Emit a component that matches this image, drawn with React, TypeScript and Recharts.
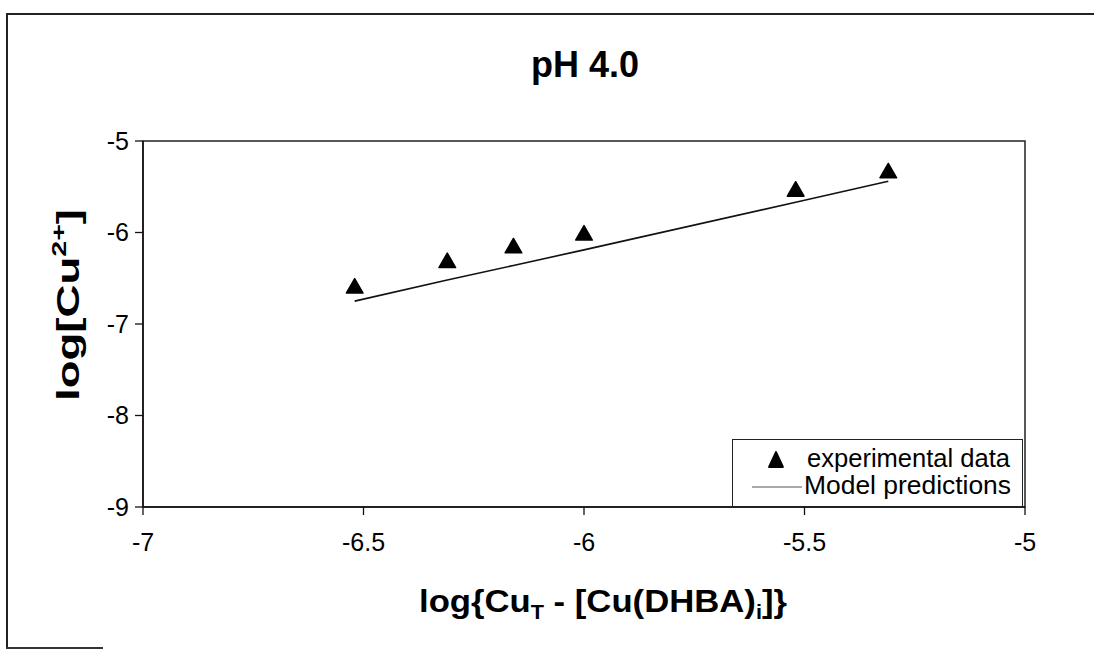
import React from "react";
import {
  ComposedChart,
  Scatter,
  Line,
  XAxis,
  YAxis,
  ZAxis,
  ReferenceArea,
} from "recharts";

// log{CuT - [Cu(DHBA)i]} values
const logCuFree = [-6.52, -6.31, -6.16, -6.0, -5.52, -5.31];
// measured log[Cu2+]
const logCuMeasured = [-6.61, -6.33, -6.17, -6.03, -5.55, -5.35];
// model curve at the same abscissae
const logCuModel = [-6.75, -6.52, -6.36, -6.19, -5.67, -5.44];

const xTicks = [-7, -6.5, -6, -5.5, -5];
const yTicks = [-9, -8, -7, -6, -5];

const FONT = "'Liberation Sans', Arial, sans-serif";

const experimental = logCuFree.map((x, i) => ({ x, y: logCuMeasured[i] }));
const model = logCuFree.map((x, i) => ({ x, y: logCuModel[i] }));

function LegendBox() {
  return (
    <div
      style={{
        position: "absolute",
        left: 732,
        top: 439,
        width: 289,
        height: 66,
        border: "1.5px solid #222",
        background: "#fff",
      }}
    >
      <svg width={289} height={66} style={{ position: "absolute", left: 0, top: 0 }}>
        <polygon points="43,12 50,27 36,27" fill="#000" stroke="#000" strokeWidth={1.8} strokeLinejoin="round" />
        <line x1={19} x2={69} y1={47} y2={47} stroke="#555" strokeWidth={1.2} />
        <text x={74} y={27} fontSize={25} fontFamily={FONT} textLength={203} lengthAdjust="spacingAndGlyphs">
          experimental data
        </text>
        <text x={71} y={54} fontSize={25} fontFamily={FONT} textLength={207} lengthAdjust="spacingAndGlyphs">
          Model predictions
        </text>
      </svg>
    </div>
  );
}

export default function App() {
  return (
    <div
      style={{
        position: "fixed",
        left: 0,
        top: 0,
        width: 1094,
        height: 650,
        background: "#fff",
        fontFamily: FONT,
      }}
    >
      {/* outer figure frame */}
      <div style={{ position: "absolute", left: 6, top: 13, width: 1088, height: 1.5, background: "#222" }} />
      <div style={{ position: "absolute", left: 6, top: 13, width: 1.5, height: 636, background: "#222" }} />
      <div style={{ position: "absolute", left: 6, top: 647, width: 97, height: 1.5, background: "#333" }} />

      <div style={{ position: "absolute", left: 0, top: 0, width: 1094, height: 650 }}>
        <ComposedChart
          width={1094}
          height={650}
          margin={{ top: 141, right: 69, bottom: 93, left: 83 }}
        >
          <XAxis
            type="number"
            dataKey="x"
            domain={[-7, -5]}
            ticks={xTicks}
            allowDataOverflow
            height={50}
            tickSize={8}
            tickMargin={18}
            axisLine={{ stroke: "#111", strokeWidth: 1.5 }}
            tickLine={{ stroke: "#111", strokeWidth: 1.3 }}
            tick={{ fill: "#000", fontSize: 25, fontFamily: FONT }}
            label={{
              position: "bottom",
              content: () => (
                <text
                  x={603}
                  y={612}
                  textAnchor="middle"
                  fontSize={32}
                  fontWeight="bold"
                  fontFamily={FONT}
                  fill="#000"
                  textLength={368}
                  lengthAdjust="spacingAndGlyphs"
                >
                  log{"{"}Cu
                  <tspan fontSize={20} dy={7}>T</tspan>
                  <tspan dy={-7}> - [Cu(DHBA)</tspan>
                  <tspan fontSize={20} dy={7}>i</tspan>
                  <tspan dy={-7}>]{"}"}</tspan>
                </text>
              ),
            }}
          />
          <YAxis
            type="number"
            dataKey="y"
            domain={[-9, -5]}
            ticks={yTicks}
            allowDataOverflow
            width={60}
            tickSize={8}
            tickMargin={6}
            axisLine={{ stroke: "#111", strokeWidth: 1.5 }}
            tickLine={{ stroke: "#111", strokeWidth: 1.3 }}
            tick={{ fill: "#000", fontSize: 25, fontFamily: FONT }}
            label={{
              position: "left",
              content: () => (
                <text
                  transform="translate(79, 305) rotate(-90)"
                  x={0}
                  y={0}
                  textAnchor="middle"
                  fontSize={32}
                  fontWeight="bold"
                  fontFamily={FONT}
                  fill="#000"
                  textLength={192}
                  lengthAdjust="spacingAndGlyphs"
                >
                  log[Cu
                  <tspan fontSize={20} dy={-13}>2+</tspan>
                  <tspan dy={13}>]</tspan>
                </text>
              ),
            }}
          />
          <ZAxis range={[120, 120]} />
          <ReferenceArea
            x1={-7}
            x2={-5}
            y1={-9}
            y2={-5}
            fill="none"
            stroke="#222"
            strokeWidth={1.5}
            ifOverflow="visible"
          />
          <Line
            data={model}
            dataKey="y"
            type="linear"
            stroke="#111"
            strokeWidth={1.6}
            dot={false}
            activeDot={false}
            name="Model predictions"
            isAnimationActive={false}
          />
          <Scatter
            data={experimental}
            dataKey="y"
            shape="triangle"
            fill="#000"
            stroke="#000"
            strokeWidth={1.5}
            strokeLinejoin="round"
            name="experimental data"
            isAnimationActive={false}
          />
        </ComposedChart>
      </div>

      <LegendBox />

      <div
        style={{
          position: "absolute",
          left: 0,
          top: 0,
          width: 1094,
          height: 100,
          pointerEvents: "none",
        }}
      >
        <svg width={1094} height={100}>
          <text
            x={585}
            y={77}
            textAnchor="middle"
            fontSize={36}
            fontWeight="bold"
            fontFamily={FONT}
            fill="#000"
            textLength={108}
            lengthAdjust="spacingAndGlyphs"
          >
            pH 4.0
          </text>
        </svg>
      </div>
    </div>
  );
}
